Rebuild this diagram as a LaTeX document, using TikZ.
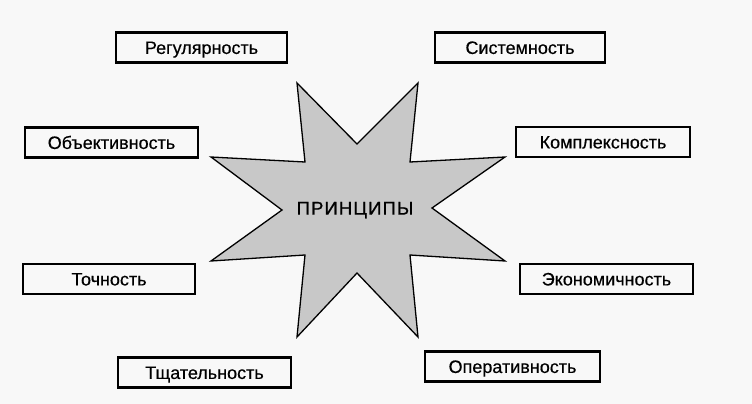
\documentclass[tikz,border=0pt]{standalone}
\usepackage{fontspec}
\setmainfont[FakeBold=0.4]{Liberation Sans}
\newfontfamily\starfont[LetterSpace=6,FakeBold=0.8]{Liberation Sans}
\definecolor{bgc}{HTML}{F8F8F8}
\definecolor{starc}{HTML}{C8C8C8}
\begin{document}
\begin{tikzpicture}[x=1pt,y=-1pt,
  pbox/.style={draw=black,line width=2.6pt,fill=bgc,minimum width=#1,minimum height=30pt,inner sep=0pt,text height=12.9pt,text depth=0pt,font=\fontsize{18}{19}\selectfont},
  pbox/.default=172pt]
\fill[bgc] (0,0) rectangle (752,404);
\useasboundingbox (0,0) rectangle (752,404);
\draw[fill=starc,line width=1.3pt,line join=miter]
  (297,83) coordinate (s1) -- (357,144) -- (418,83) -- (410,162) -- (505,157) -- (432,208)
  -- (505,261) -- (410,255) -- (418,337) -- (357,273) -- (297,337) -- (305,255)
  -- (211,261) -- (282,210) -- (211,157) -- (305,162) -- cycle;
\node[font=\starfont\fontsize{18.5}{19}\selectfont,text height=13.2pt,text depth=0pt,inner sep=0pt] (c) at (355,208) {ПРИНЦИПЫ};
\node[pbox=171pt] (r) at (201.5,47.5) {Регулярность};
\node[pbox=170pt] (s) at (520,47.5) {Системность};
\node[pbox=173pt] (o) at (111.5,142.5) {Объективность};
\node[pbox=174pt] (k) at (603,142) {Комплексность};
\node[pbox=172pt] (t) at (109,279) {Точность};
\node[pbox=173pt] (e) at (606.5,279) {Экономичность};
\node[pbox=173pt] (tq) at (204.5,372.5) {Тщательность};
\node[pbox=175pt] (op) at (512.5,366.5) {Оперативность};
\end{tikzpicture}
\end{document}
